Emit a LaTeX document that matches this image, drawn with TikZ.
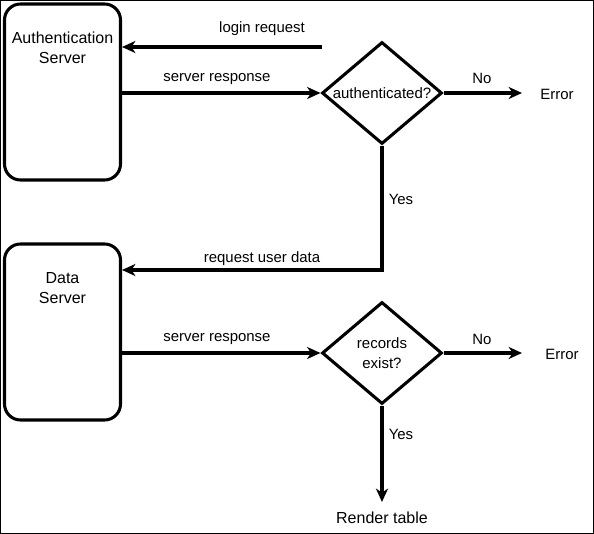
\documentclass[tikz,border=0pt]{standalone}
\usepackage{fontspec}
\setmainfont{Liberation Sans}
\usetikzlibrary{shapes.geometric,arrows.meta}
\tikzset{
  srv/.style={draw, line width=2.3pt, rounded corners=12pt, minimum width=116*0.75pt, minimum height=176*0.75pt, inner sep=0pt},
  dec/.style={draw, diamond, line width=2.3pt, minimum width=120*0.75pt, minimum height=102*0.75pt, inner sep=0pt},
  arr/.style={line width=2.3pt, -{Stealth[length=10pt, width=9pt, inset=3pt]}},
  lbl/.style={font=\fontsize{11.2}{13}\selectfont, inner sep=1pt},
  big/.style={font=\fontsize{12}{15}\selectfont, align=center, inner sep=1pt},
  dtxt/.style={font=\fontsize{11.25}{15}\selectfont, align=center, inner sep=0pt},
}
\begin{document}
\begin{tikzpicture}[x=0.75pt,y=-0.75pt]
\useasboundingbox (0,0) rectangle (594,534);
\draw[line width=0.75pt] (0.5,0.5) rectangle (593.5,533.5);

\node[srv] (auth) at (62.5,92) {};
\node[big] (authtxt) at (62.5,48) {Authentication\\Server};
\node[srv] (data) at (62.5,332) {};
\node[big] (datatxt) at (62.5,288) {Data\\Server};

\node[dec, label={[dtxt]center:authenticated?}] (d1) at (382,93) {};
\node[dec, label={[dtxt]center:{records\\exist?}}] (d2) at (382,353) {};

\node[lbl] (e1) at (557,94) {Error};
\node[lbl] (e2) at (562,354) {Error};
\node[big] (rt) at (382,518) {Render table};

\coordinate (lr) at (322,47);
\coordinate (n1) at (522,93);
\coordinate (n2) at (522,353);
\coordinate (y2) at (382,502);

\draw[arr] (lr) -- (lr -| auth.east);
\draw[arr] (auth.east |- d1.west) -- (d1.west);
\draw[arr] (d1.east) -- (n1);
\draw[arr] (d1.south) |- (data.east |- 0,270);
\draw[arr] (data.east |- d2.west) -- (d2.west);
\draw[arr] (d2.east) -- (n2);
\draw[arr] (d2.south) -- (y2);

\node[lbl] (l1) at (262,29) {login request};
\node[lbl] (l2) at (217,79) {server response};
\node[lbl] (l3) at (482,78) {No};
\node[lbl] (l4) at (401,199) {Yes};
\node[lbl] (l5) at (262,259) {request user data};
\node[lbl] (l6) at (217,339) {server response};
\node[lbl] (l7) at (482,339) {No};
\node[lbl] (l8) at (401,434) {Yes};
\end{tikzpicture}
\end{document}
